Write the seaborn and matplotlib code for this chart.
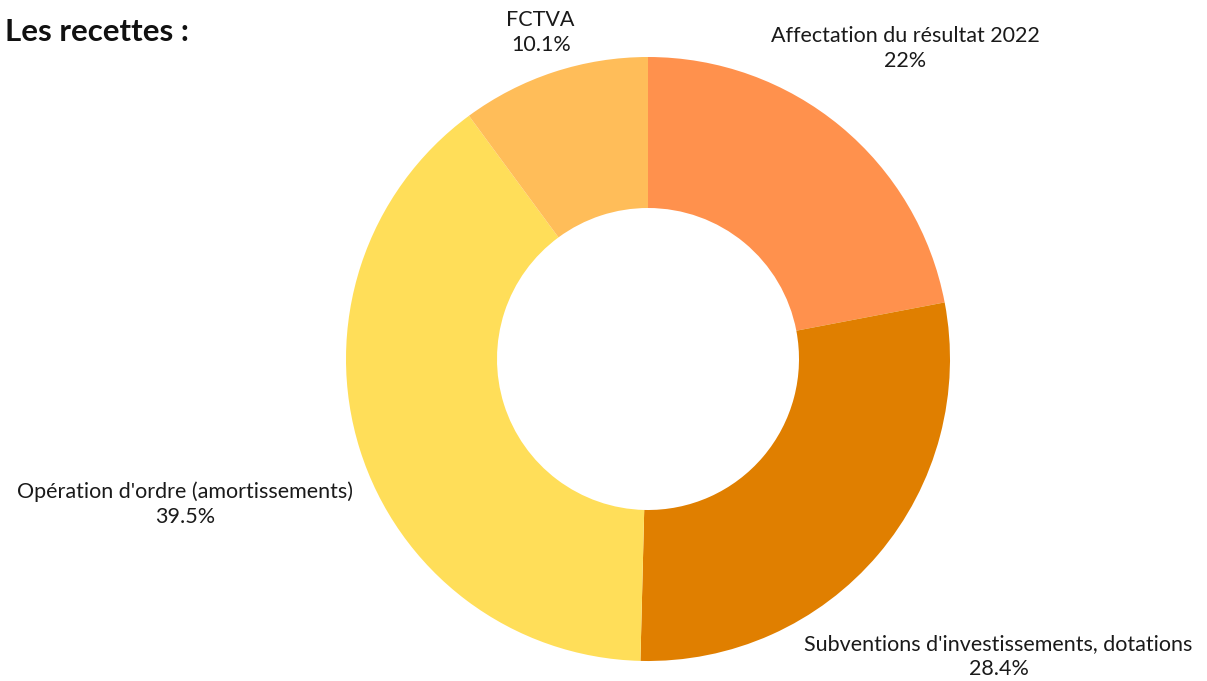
import matplotlib
matplotlib.use("Agg")
import matplotlib.pyplot as plt
import seaborn as sns
import numpy as np

# Data
categories = ["Affectation du résultat 2022",
              "Subventions d'investissements, dotations",
              "Opération d'ordre (amortissements)",
              "FCTVA"]
values = [22.0, 28.4, 39.5, 10.1]
pct_labels = ["22%", "28.4%", "39.5%", "10.1%"]
colors = ["#FF914D", "#E07F00", "#FFDE59", "#FFBD59"]
title = "Les recettes :"

sns.set_theme(style="white")
plt.rcParams['font.family'] = ['Lato', 'DejaVu Sans']

W, H = 1207, 681
fig = plt.figure(figsize=(W / 100, H / 100), dpi=100)
ax = fig.add_axes([0, 0, 1, 1])

cx, cy, R = 648, H - 359, 302
palette = sns.color_palette(colors)
wedges, _ = ax.pie(values, colors=palette, startangle=90, counterclock=False,
                   radius=R, center=(cx, cy), frame=True,
                   wedgeprops=dict(width=R * 0.5, linewidth=0))
ax.set_xlim(0, W)
ax.set_ylim(0, H)
ax.set_aspect("equal")
ax.axis("off")

label_dist = [1.335, 1.523, 1.606, 1.139]
for w, name, pct, d in zip(wedges, categories, pct_labels, label_dist):
    ang = np.deg2rad((w.theta1 + w.theta2) / 2)
    x = cx + R * d * np.cos(ang)
    y = cy + R * d * np.sin(ang)
    ax.text(x, y, f"{name}\n{pct}", ha="center", va="center",
            fontsize=15.5, color="#1a1a1a", linespacing=1.3)

fig.text(5 / W, 1 - 32 / H, title, ha="left", va="center",
         fontsize=22.5, fontweight="bold", color="#111111")

fig.savefig("out.png", dpi=100)
